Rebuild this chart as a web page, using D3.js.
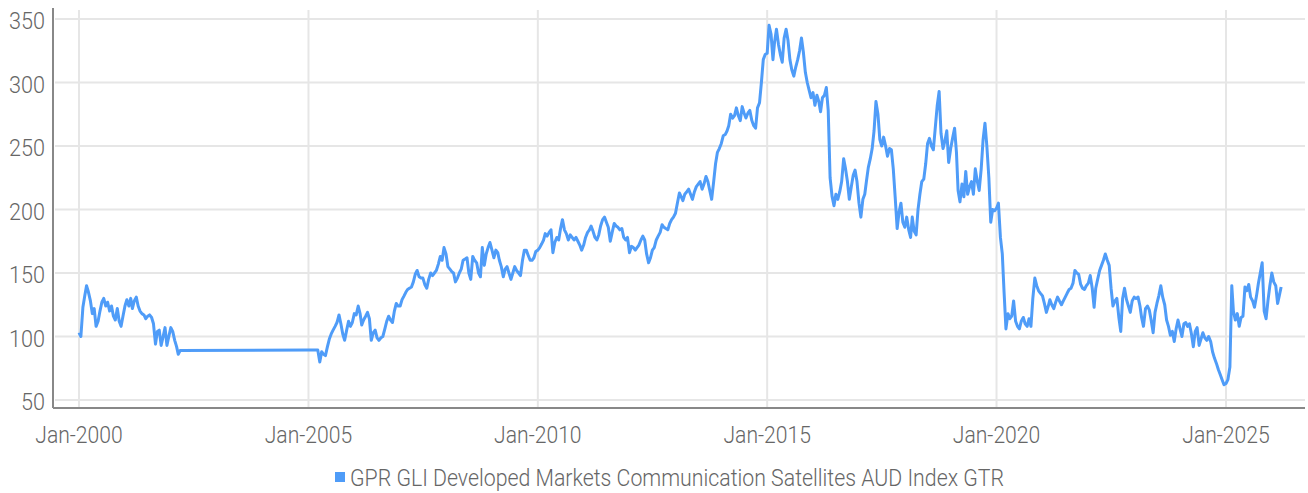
<!DOCTYPE html>
<html>
<head>
<meta charset="utf-8">
<script src="https://cdn.jsdelivr.net/npm/d3@7"></script>
<style>
  body { margin: 0; background: #fff; }
  text { font-family: Roboto, "Open Sans", sans-serif; font-weight: 300; fill: #666; }
</style>
</head>
<body>
<div id="chart"></div>
<script>
const seriesName = "GPR GLI Developed Markets Communication Satellites AUD Index GTR"
const tickYears = [2000, 2005, 2010, 2015, 2020, 2025]
const yTicks = [50, 100, 150, 200, 250, 300, 350]

// half-monthly closes (1st and 16th of each month)
const v2000 = [103, 100, 123, 132, 140, 135, 128, 118, 122, 108, 112, 120, 127, 130, 124, 127, 120, 124, 116, 113, 122, 112, 108, 116]
const v2001 = [124, 129, 124, 130, 122, 128, 131, 124, 120, 118, 117, 114, 116, 117, 115, 110, 94, 104, 105, 93, 100, 107, 93, 100]
const v2002 = [107, 104, 97, 92, 86, 89]
const v2005 = [89.4, 89.4, 89.4, 89.4, 89.4, 89.4, 80, 88, 86, 85, 92, 98, 102, 105, 108, 111, 117, 110, 102, 97, 105, 112, 108, 111]
const v2006 = [118, 117, 124, 118, 109, 113, 116, 119, 114, 97, 103, 105, 99, 97, 99, 100, 106, 112, 116, 113, 111, 120, 126, 124]
const v2007 = [124, 129, 132, 135, 137, 138, 139, 143, 149, 152, 147, 146, 146, 141, 138, 145, 150, 148, 150, 152, 157, 163, 160, 170]
const v2008 = [165, 155, 153, 151, 150, 143, 146, 150, 153, 160, 161, 162, 150, 145, 163, 160, 158, 150, 147, 170, 156, 165, 170, 174]
const v2009 = [168, 162, 168, 166, 160, 155, 147, 153, 155, 150, 145, 150, 155, 152, 150, 148, 160, 168, 168, 164, 160, 160, 162, 167]
const v2010 = [168, 170, 173, 176, 181, 179, 182, 184, 166, 174, 178, 176, 185, 192, 184, 181, 176, 180, 178, 176, 178, 175, 172, 168]
const v2011 = [172, 178, 182, 184, 187, 183, 178, 176, 180, 187, 192, 194, 190, 186, 175, 182, 189, 187, 186, 184, 185, 178, 176, 178]
const v2012 = [166, 171, 170, 168, 170, 172, 176, 179, 176, 165, 158, 162, 168, 170, 176, 179, 182, 188, 186, 185, 184, 189, 192, 194]
const v2013 = [197, 205, 213, 210, 207, 212, 214, 216, 212, 208, 214, 218, 220, 222, 216, 220, 226, 222, 215, 208, 222, 236, 245, 248]
const v2014 = [252, 258, 259, 262, 266, 275, 272, 274, 280, 274, 270, 281, 276, 272, 276, 278, 270, 266, 264, 280, 284, 300, 318, 322]
const v2015 = [323, 345, 338, 318, 332, 342, 330, 322, 316, 335, 342, 333, 318, 310, 305, 312, 318, 325, 335, 324, 308, 300, 294, 288]
const v2016 = [292, 282, 290, 285, 277, 288, 290, 296, 278, 225, 210, 203, 212, 208, 214, 222, 240, 232, 222, 208, 218, 227, 231, 222]
const v2017 = [205, 194, 208, 212, 222, 233, 240, 248, 262, 285, 275, 255, 250, 257, 250, 242, 248, 247, 232, 210, 185, 198, 205, 190]
const v2018 = [186, 194, 184, 178, 194, 183, 180, 200, 212, 222, 224, 236, 252, 256, 250, 247, 265, 282, 293, 260, 248, 254, 262, 237]
const v2019 = [248, 256, 264, 245, 215, 206, 220, 210, 230, 212, 218, 222, 212, 232, 222, 215, 232, 255, 268, 250, 225, 190, 200, 199]
const v2020 = [201, 205, 178, 165, 135, 106, 118, 114, 116, 128, 112, 108, 106, 112, 115, 110, 108, 114, 108, 130, 146, 140, 136, 134]
const v2021 = [132, 126, 119, 124, 129, 125, 122, 127, 131, 128, 125, 128, 131, 134, 137, 138, 142, 152, 150, 149, 141, 138, 137, 140]
const v2022 = [142, 148, 138, 123, 138, 145, 152, 156, 160, 165, 160, 156, 138, 124, 128, 130, 115, 104, 130, 138, 129, 124, 119, 128]
const v2023 = [131, 130, 131, 124, 115, 108, 122, 124, 121, 113, 103, 119, 126, 132, 140, 131, 125, 113, 108, 101, 104, 96, 106, 113]
const v2024 = [106, 100, 110, 111, 108, 110, 102, 92, 104, 107, 93, 98, 103, 99, 97, 100, 96, 88, 83, 79, 74, 70, 66, 62]
const v2025 = [63, 66, 76, 140, 120, 113, 118, 108, 115, 116, 139, 136, 141, 131, 128, 123, 132, 142, 150, 158, 120, 114, 128, 140]
const v2026 = [150, 143, 140, 126, 132, 139]

const yearly = [
  [2000, v2000], [2001, v2001], [2002, v2002], [2005, v2005], [2006, v2006],
  [2007, v2007], [2008, v2008], [2009, v2009], [2010, v2010], [2011, v2011],
  [2012, v2012], [2013, v2013], [2014, v2014], [2015, v2015], [2016, v2016],
  [2017, v2017], [2018, v2018], [2019, v2019], [2020, v2020], [2021, v2021],
  [2022, v2022], [2023, v2023], [2024, v2024], [2025, v2025], [2026, v2026]
]

function buildPoints() {
  // Turn each year's half-monthly list into dated points.
  let points = []
  yearly.forEach(function(entry) {
    let year = entry[0]
    entry[1].forEach(function(v, i) {
      points.push({ date: new Date(year, Math.floor(i / 2), i % 2 ? 16 : 1), value: v })
    })
  })
  return points
}

const width = 1308
const height = 493
const color = "#4f9cf8"

// squeeze a label a bit so it reads like the narrow face in the original
function narrow(sel, factor) {
  sel.each(function() {
    let w = this.getComputedTextLength()
    d3.select(this)
      .attr("textLength", w * factor)
      .attr("lengthAdjust", "spacingAndGlyphs")
  })
}

function draw() {
  let data = buildPoints()

  let svg = d3.select("#chart").append("svg")
    .attr("width", width)
    .attr("height", height)

  let x = d3.scaleTime()
    .domain([new Date(2000, 0, 1), new Date(2025, 0, 1)])
    .range([79, 1226])

  let y = d3.scaleLinear()
    .domain([50, 350])
    .range([400, 19])

  let left = 53, right = 1305, top = 8, bottom = 408

  // grid
  svg.append("g")
    .selectAll("line.h")
    .data(yTicks)
    .enter().append("line")
    .attr("x1", left + 2).attr("x2", right)
    .attr("y1", function(d) { return y(d) }).attr("y2", function(d) { return y(d) })
    .attr("stroke", "#e6e6e6").attr("stroke-width", 2)

  let tickDates = tickYears.map(function(yr) { return new Date(yr, 0, 1) })
  svg.append("g")
    .selectAll("line.v")
    .data(tickDates)
    .enter().append("line")
    .attr("x1", function(d) { return x(d) }).attr("x2", function(d) { return x(d) })
    .attr("y1", top + 2).attr("y2", bottom)
    .attr("stroke", "#e6e6e6").attr("stroke-width", 2)

  // axes lines
  svg.append("line")
    .attr("x1", left).attr("x2", left).attr("y1", top).attr("y2", bottom)
    .attr("stroke", "#888").attr("stroke-width", 2)
  svg.append("line")
    .attr("x1", left).attr("x2", right).attr("y1", bottom).attr("y2", bottom)
    .attr("stroke", "#888").attr("stroke-width", 2)

  // y labels
  svg.append("g")
    .selectAll("text")
    .data(yTicks)
    .enter().append("text")
    .attr("x", 45)
    .attr("y", function(d) { return y(d) + 10 })
    .attr("text-anchor", "end")
    .style("font-size", "24px")
    .text(function(d) { return d })
    .call(narrow, 0.9)

  // x labels
  let fmt = d3.timeFormat("Jan-%Y")
  svg.append("g")
    .selectAll("text")
    .data(tickDates)
    .enter().append("text")
    .attr("x", function(d) { return x(d) })
    .attr("y", 443)
    .attr("text-anchor", "middle")
    .style("font-size", "24px")
    .text(function(d) { return fmt(d) })
    .call(narrow, 0.88)

  // series
  let line = d3.line()
    .x(function(d) { return x(d.date) })
    .y(function(d) { return y(d.value) })

  svg.append("path")
    .datum(data)
    .attr("d", line)
    .attr("fill", "none")
    .attr("stroke", color)
    .attr("stroke-width", 3)
    .attr("stroke-linejoin", "round")

  // legend
  svg.append("rect")
    .attr("x", 335).attr("y", 472)
    .attr("width", 10).attr("height", 10)
    .attr("fill", color)
  svg.append("text")
    .attr("x", 350)
    .attr("y", 486)
    .attr("textLength", 654)
    .attr("lengthAdjust", "spacingAndGlyphs")
    .style("font-size", "23px")
    .text(seriesName)
}

draw()
</script>
</body>
</html>
